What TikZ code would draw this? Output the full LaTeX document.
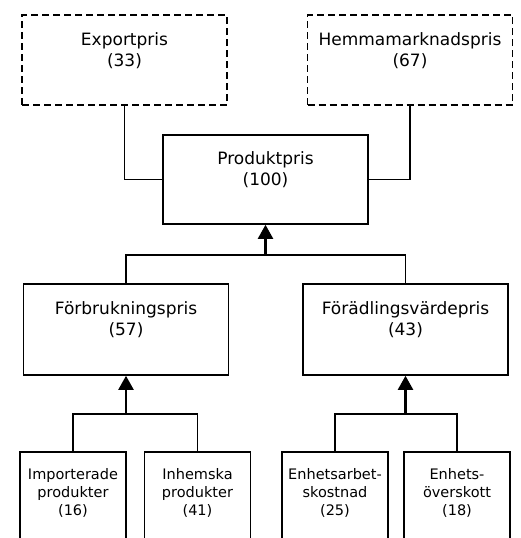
\documentclass[tikz,border=0pt]{standalone}
\usepackage{fontspec}
\setmainfont{DejaVu Sans}
\usetikzlibrary{arrows.meta, positioning}
\tikzstyle{box} = [draw, line width=1.6pt, rectangle, align=center,
                   minimum width=205pt, minimum height=90pt, inner sep=0pt,
                   font=\fontsize{17}{21}\selectfont]
\tikzstyle{dashbox} = [box, dash pattern=on 7pt off 4pt]
\tikzstyle{leaf} = [box, minimum width=106pt, minimum height=98pt,
                    font=\fontsize{14.5}{18}\selectfont]
\tikzstyle{link} = [line width=1.6pt]
\tikzstyle{arrow} = [line width=2.2pt, -{Triangle[length=14pt, width=15pt]}]

\begin{document}
\begin{tikzpicture}[x=1pt, y=-1pt, line join=miter]
    \useasboundingbox (0,0) rectangle (521,538);
    \clip (0,0) rectangle (521,538);

    % Top row: export and home market (dashed)
    \node[dashbox] (exp) at (124.5, 60) {Exportpris\\(33)\\ };
    \node[dashbox] (hem) at (410, 60) {Hemmamarknadspris\\(67)\\ };

    % Product price
    \node[box, minimum height=89pt] (prod) at (265.5, 179.5) {Produktpris\\(100)\\ };

    % Second level
    \node[box, minimum height=91pt] (forb) at (126, 329.5) {Förbrukningspris\\(57)\\ };
    \node[box, minimum height=91pt] (fora) at (405.5, 329.5) {Förädlingsvärdepris\\(43)\\ };

    % Bottom level (runs past the lower edge)
    \node[leaf] (imp) at (73, 501) {Importerade\\produkter\\(16)\\ };
    \node[leaf] (inh) at (197.5, 501) {Inhemska\\produkter\\(41)\\ };
    \node[leaf] (arb) at (335, 501) {Enhetsarbet-\\skostnad\\(25)\\ };
    \node[leaf] (ovs) at (457, 501) {Enhets-\\överskott\\(18)\\ };

    % Plain links up top
    \draw[link] (exp.south) |- (prod.west);
    \draw[link] (hem.south) |- (prod.east);

    % Junctions
    \coordinate (jtop) at (265.5, 255);
    \coordinate (jleft) at (126, 414);
    \coordinate (jright) at (405.5, 414);

    \draw[link] (forb.north) |- (jtop) -| (fora.north);
    \draw[arrow] (jtop) -- (prod.south);

    \draw[link] (imp.north) |- (jleft) -| (inh.north);
    \draw[arrow] (jleft) -- (forb.south);

    \draw[link] (arb.north) |- (jright) -| (ovs.north);
    \draw[arrow] (jright) -- (fora.south);
\end{tikzpicture}
\end{document}
